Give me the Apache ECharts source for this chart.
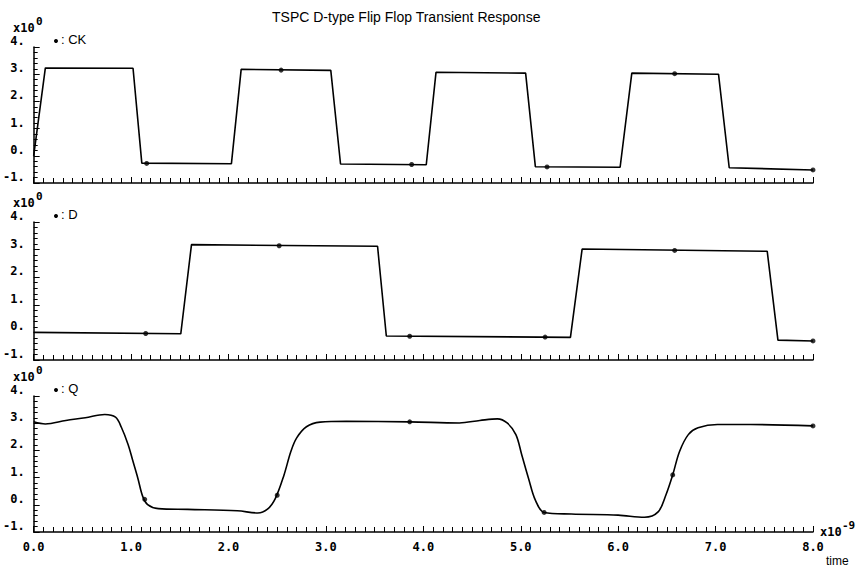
<!DOCTYPE html>
<html>
<head>
<meta charset="utf-8">
<script src="https://cdn.jsdelivr.net/npm/echarts@6/dist/echarts.min.js"></script>
<style>
html,body{margin:0;padding:0;background:#fff;}
#chart{width:859px;height:568px;}
</style>
</head>
<body>
<div id="chart"></div>
<script>
// ---- data (time in units of 1e-9 s, voltage in V) ----
const ckT = [0, 0.12, 1.02, 1.11, 2.03, 2.13, 3.05, 3.15, 4.03, 4.13, 5.05, 5.15, 6.02, 6.14, 7.03, 7.14, 8.0];
const ckV = [0.0, 3.23, 3.22, -0.27, -0.29, 3.18, 3.14, -0.30, -0.33, 3.07, 3.04, -0.40, -0.42, 3.04, 3.00, -0.44, -0.52];
const ckMarkT = [1.16, 2.54, 3.88, 5.27, 6.58, 8.0];
const ckMarkV = [-0.28, 3.15, -0.32, -0.41, 3.02, -0.52];

const dT = [0, 1.51, 1.62, 3.53, 3.62, 5.51, 5.63, 7.53, 7.64, 8.0];
const dV = [0.0, -0.05, 3.18, 3.12, -0.13, -0.18, 3.02, 2.94, -0.28, -0.31];
const dMarkT = [1.15, 2.52, 3.86, 5.25, 6.58, 8.0];
const dMarkV = [-0.04, 3.14, -0.14, -0.17, 2.97, -0.31];

const qT = [0, 0.12, 0.33, 0.53, 0.73, 0.84, 0.90, 0.97, 1.02, 1.07, 1.12, 1.17, 1.28, 1.58, 2.09, 2.30, 2.40, 2.48, 2.57, 2.64, 2.70, 2.80, 2.94, 3.21, 3.86, 4.37, 4.58, 4.76, 4.86, 4.95, 5.01, 5.08, 5.15, 5.24, 5.52, 6.00, 6.27, 6.41, 6.49, 6.56, 6.63, 6.72, 6.82, 7.02, 7.36, 8.00];
const qV = [3.05, 2.97, 3.10, 3.20, 3.32, 3.22, 2.85, 2.21, 1.59, 0.97, 0.30, 0.01, -0.14, -0.17, -0.22, -0.30, -0.16, 0.23, 1.10, 1.96, 2.46, 2.87, 3.04, 3.07, 3.05, 3.01, 3.10, 3.16, 3.01, 2.58, 1.84, 0.97, 0.17, -0.28, -0.34, -0.38, -0.46, -0.26, 0.36, 1.10, 1.96, 2.58, 2.83, 2.95, 2.95, 2.90];
const qMarkT = [1.14, 2.50, 3.86, 5.24, 6.56, 8.0];
const qMarkV = [0.20, 0.35, 3.05, -0.28, 1.10, 2.90];

const xTickLabels = ['0.0','1.0','2.0','3.0','4.0','5.0','6.0','7.0','8.0'];
const yTickLabels = {'-1':'-1.', '0':'0.', '1':'1.', '2':'2.', '3':'3.', '4':'4.'};
const signalNames = ['CK', 'D', 'Q'];
const titleText = 'TSPC D-type Flip Flop Transient Response';

// ---- layout ----
const grids = [
  {left: 28, width: 785, top: 47, height: 136},
  {left: 28, width: 785, top: 222, height: 138},
  {left: 28, width: 785, top: 396, height: 136}
];
const zip = (a, b) => a.map((v, i) => [v, b[i]]);
const lineData = [zip(ckT, ckV), zip(dT, dV), zip(qT, qV)];
const markData = [zip(ckMarkT, ckMarkV), zip(dMarkT, dMarkV), zip(qMarkT, qMarkV)];

const tickFont = {fontFamily: 'DejaVu Sans Mono', fontWeight: 'bold', fontSize: 12, color: '#000'};
const txtFont = 'Liberation Sans';

const xAxes = grids.map((g, i) => ({
  gridIndex: i, type: 'value', min: 0, max: 8, interval: 1,
  axisLine: {onZero: false, lineStyle: {color: '#000', width: 1.5}},
  axisTick: {show: true, inside: true, length: 6, lineStyle: {color: '#000', width: 1}},
  minorTick: {show: true, splitNumber: 10, length: 5, lineStyle: {color: '#000', width: 1}},
  splitLine: {show: false},
  axisLabel: Object.assign({show: i === 2, margin: 9,
    formatter: v => xTickLabels[Math.round(v)]}, tickFont)
}));
const yAxes = grids.map((g, i) => ({
  gridIndex: i, type: 'value', min: -1, max: 4, interval: 1,
  axisLine: {show: true, onZero: false, lineStyle: {color: '#000', width: 1.5}},
  axisTick: {show: true, inside: true, length: 6, lineStyle: {color: '#000', width: 1}},
  minorTick: {show: true, splitNumber: 5, length: 4, lineStyle: {color: '#000', width: 1}},
  splitLine: {show: false},
  axisLabel: Object.assign({margin: 9, verticalAlign: 'bottom',
    formatter: v => yTickLabels[String(Math.round(v))]}, tickFont)
}));

const series = [];
for (let i = 0; i < 3; i++) {
  series.push({
    type: 'line', xAxisIndex: i, yAxisIndex: i, data: lineData[i],
    showSymbol: false, symbol: 'none', smooth: i === 2 ? 0.35 : false,
    lineStyle: {color: '#000', width: 1.6}, animation: false, z: 2
  });
  series.push({
    type: 'scatter', xAxisIndex: i, yAxisIndex: i, data: markData[i],
    symbol: 'circle', symbolSize: 5, itemStyle: {color: '#000'}, animation: false, z: 3
  });
}

const graphics = [
  {type: 'text', left: 272, top: 10, style: {text: titleText, font: '14px ' + txtFont, fill: '#000'}}
];
const panelTops = [22, 197, 371];
for (let i = 0; i < 3; i++) {
  const t = panelTops[i];
  graphics.push({type: 'text', x: 13, y: t, style: {text: 'x10', font: 'bold 12px DejaVu Sans Mono', fill: '#000'}});
  graphics.push({type: 'text', x: 36, y: t - 6, style: {text: '0', font: 'bold 11px DejaVu Sans Mono', fill: '#000'}});
  graphics.push({type: 'circle', shape: {cx: 56, cy: t + 19, r: 2}, style: {fill: '#000'}});
  graphics.push({type: 'text', x: 61, y: t + 11, style: {text: ': ' + signalNames[i], font: '13px ' + txtFont, fill: '#000'}});
}
graphics.push({type: 'text', x: 820, y: 526, style: {text: 'x10', font: 'bold 12px DejaVu Sans Mono', fill: '#000'}});
graphics.push({type: 'text', x: 842, y: 520, style: {text: '-9', font: 'bold 11px DejaVu Sans Mono', fill: '#000'}});
graphics.push({type: 'text', x: 826, y: 555, style: {text: 'time', font: '12px ' + txtFont, fill: '#000'}});

const chart = echarts.init(document.getElementById('chart'), null, {renderer: 'svg'});
chart.setOption({
  backgroundColor: '#fff',
  animation: false,
  grid: grids,
  xAxis: xAxes,
  yAxis: yAxes,
  series: series,
  graphic: graphics
});
</script>
</body>
</html>
